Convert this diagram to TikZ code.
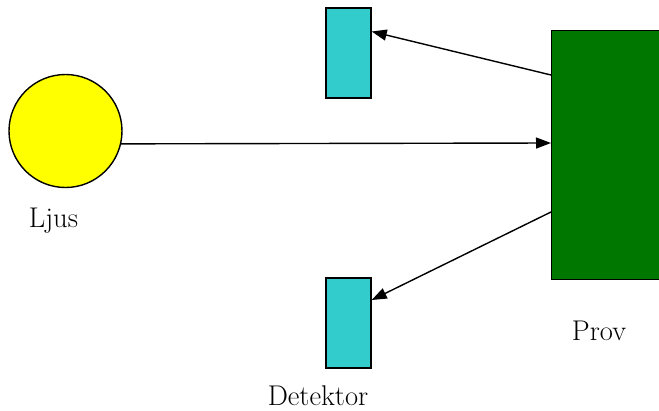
\documentclass[tikz,border=0pt]{standalone}
\usetikzlibrary{arrows.meta,calc}
\definecolor{sunyellow}{RGB}{255,255,0}
\definecolor{detcyan}{RGB}{51,204,204}
\definecolor{provgreen}{RGB}{0,120,0}
\begin{document}
\begin{tikzpicture}[x=1pt,y=-1pt,
  outline/.style={draw=black,line width=1.4pt},
  detbox/.style={outline,fill=detcyan,minimum width=45pt,minimum height=90pt,inner sep=0pt},
  ray/.style={line width=1.4pt,-{Triangle[length=15pt,width=11pt]}},
  label/.style={font=\rmfamily\fontsize{28.5}{34}\selectfont,anchor=base,inner sep=0pt}]
\useasboundingbox (0,0) rectangle (659,410);
\clip (0,0) rectangle (659,410);
\node[outline,fill=sunyellow,circle,minimum size=113pt,inner sep=0pt] (light) at (65.5,131) {};
\node[detbox] (det1) at (348.5,53) {};
\node[detbox] (det2) at (348.5,323) {};
\node[outline,fill=provgreen,minimum width=220pt,minimum height=249pt,inner sep=0pt,anchor=north west] (prov) at (551,30) {};
\node[label] (ljus) at (53.5,227) {Ljus};
\node[label] (provtxt) at (599,340) {Prov};
\node[label] (dettxt) at (318,405) {Detektor};
\coordinate (pa) at ($(prov.north west)+(0,45)$);
\coordinate (pb) at ($(prov.north west)+(0,113)$);
\coordinate (pc) at ($(prov.north west)+(0,182)$);
\draw[ray] (pa) -- ($(det1.east)+(0,-21.5)$);
\draw[ray] (light.-13) -- (pb);
\draw[ray] (pc) -- ($(det2.east)+(0,-23)$);
\end{tikzpicture}
\end{document}
